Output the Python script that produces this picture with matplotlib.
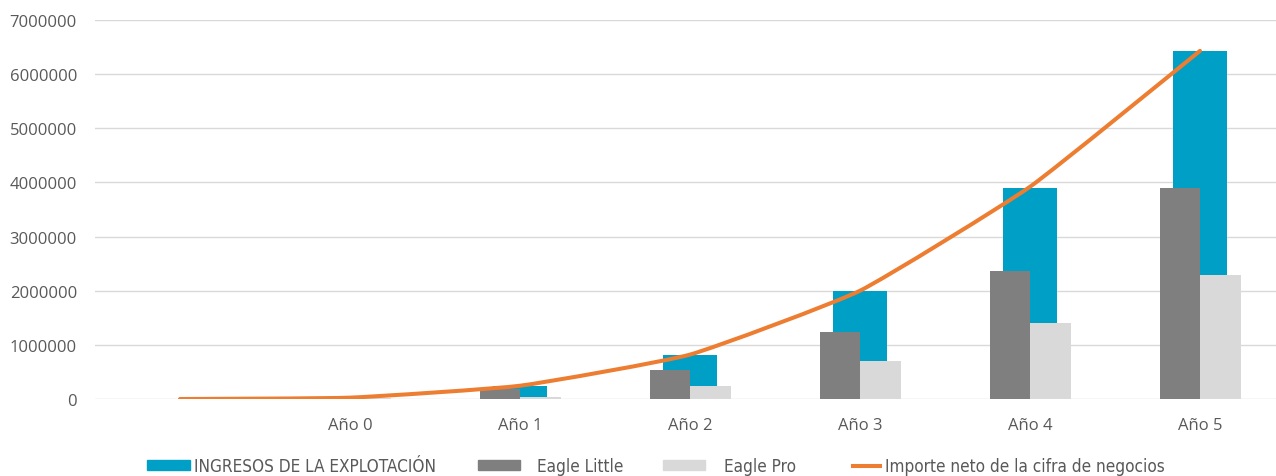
import matplotlib
matplotlib.use("Agg")
import matplotlib.pyplot as plt
from matplotlib.path import Path
from matplotlib.patches import PathPatch, Patch
from matplotlib.lines import Line2D
import numpy as np

categorias = ["", "Año 0", "Año 1", "Año 2", "Año 3", "Año 4", "Año 5"]
anios = ["Año 0", "Año 1", "Año 2", "Año 3", "Año 4", "Año 5"]
ingresos = [10000, 235000, 810000, 2000000, 3890000, 6430000]
eagle_little = [0, 185000, 540000, 1245000, 2360000, 3900000]
eagle_pro = [10000, 40000, 235000, 700000, 1400000, 2290000]
importe_neto = [0, 25000, 245000, 820000, 2000000, 3920000, 6430000]

C_BLUE = "#00A0C6"
C_GRAY = "#7F7F7F"
C_LIGHT = "#D9D9D9"
C_ORANGE = "#ED7D31"
C_TEXT = "#595959"

fig = plt.figure(figsize=(12.76, 4.77), dpi=100)
W, H = 1276, 477
x0, x1 = 95, 1285
ytop, ybot = 21, 400
ax = fig.add_axes([x0 / W, 1 - ybot / H, (x1 - x0) / W, (ybot - ytop) / H])

pos_all = np.arange(len(categorias))
pos_bars = np.array([categorias.index(a) for a in anios])

bw_main = 54 / 170.0
bw_small = 40.5 / 170.0
ax.bar(pos_bars, ingresos, width=bw_main, color=C_BLUE, zorder=2)
ax.bar(pos_bars - bw_small / 2, eagle_little, width=bw_small, color=C_GRAY, zorder=3)
ax.bar(pos_bars + bw_small / 2, eagle_pro, width=bw_small, color=C_LIGHT, zorder=3)

# lightly smoothed line (Bezier through data points)
pts = np.column_stack([pos_all, importe_neto]).astype(float)
verts = [tuple(pts[0])]
codes = [Path.MOVETO]
n = len(pts)
k = 1 / 14.0
for i in range(n - 1):
    p0 = pts[i - 1] if i > 0 else pts[i]
    p1 = pts[i]
    p2 = pts[i + 1]
    p3 = pts[i + 2] if i + 2 < n else pts[i + 1]
    c1 = p1 + (p2 - p0) * k
    c2 = p2 - (p3 - p1) * k
    verts += [tuple(c1), tuple(c2), tuple(p2)]
    codes += [Path.CURVE4] * 3
ax.add_patch(PathPatch(Path(verts, codes), facecolor="none", edgecolor=C_ORANGE,
                       lw=2.9, capstyle="round", joinstyle="round", zorder=4))

ax.set_xlim(-0.5, len(categorias) - 0.5)
ax.set_ylim(0, 7000000)
ax.set_yticks(np.arange(0, 7000001, 1000000))
ax.set_yticklabels([str(v) for v in range(0, 7000001, 1000000)])
ax.set_xticks(pos_all)
ax.set_xticklabels(categorias)
ax.grid(axis="y", color="#D9D9D9", lw=1.0, zorder=0)
ax.set_axisbelow(True)
for s in ax.spines.values():
    s.set_visible(False)
ax.tick_params(axis="both", length=0, colors=C_TEXT, labelsize=12)
ax.tick_params(axis="y", pad=13)
ax.tick_params(axis="x", pad=13)
for lbl in ax.get_xticklabels() + ax.get_yticklabels():
    lbl.set_fontfamily(["Open Sans", "DejaVu Sans"])

fs = 12.3
handles = [Patch(color=C_BLUE), Patch(color=C_GRAY), Patch(color=C_LIGHT),
           Line2D([0], [0], color=C_ORANGE, lw=2.9)]
labels = ["INGRESOS DE LA EXPLOTACIÓN", "Eagle Little", "Eagle Pro",
          "Importe neto de la cifra de negocios"]
leg_x = [147, 478, 663, 853]
leg_hlen = [2.5, 2.45, 2.45, 1.6]
leg_pad = [0.25, 1.0, 1.1, 0.3]
for h, l, lx, hl, tp in zip(handles, labels, leg_x, leg_hlen, leg_pad):
    leg = fig.legend([h], [l], loc="center left", bbox_to_anchor=(lx / W, 1 - 467 / H),
                     frameon=False, handlelength=hl, handleheight=0.5,
                     handletextpad=tp, borderpad=0, borderaxespad=0,
                     prop={"family": ["DejaVu Sans"], "stretch": "condensed", "size": fs})
    for t in leg.get_texts():
        t.set_color(C_TEXT)

fig.savefig("out.png", dpi=100)
